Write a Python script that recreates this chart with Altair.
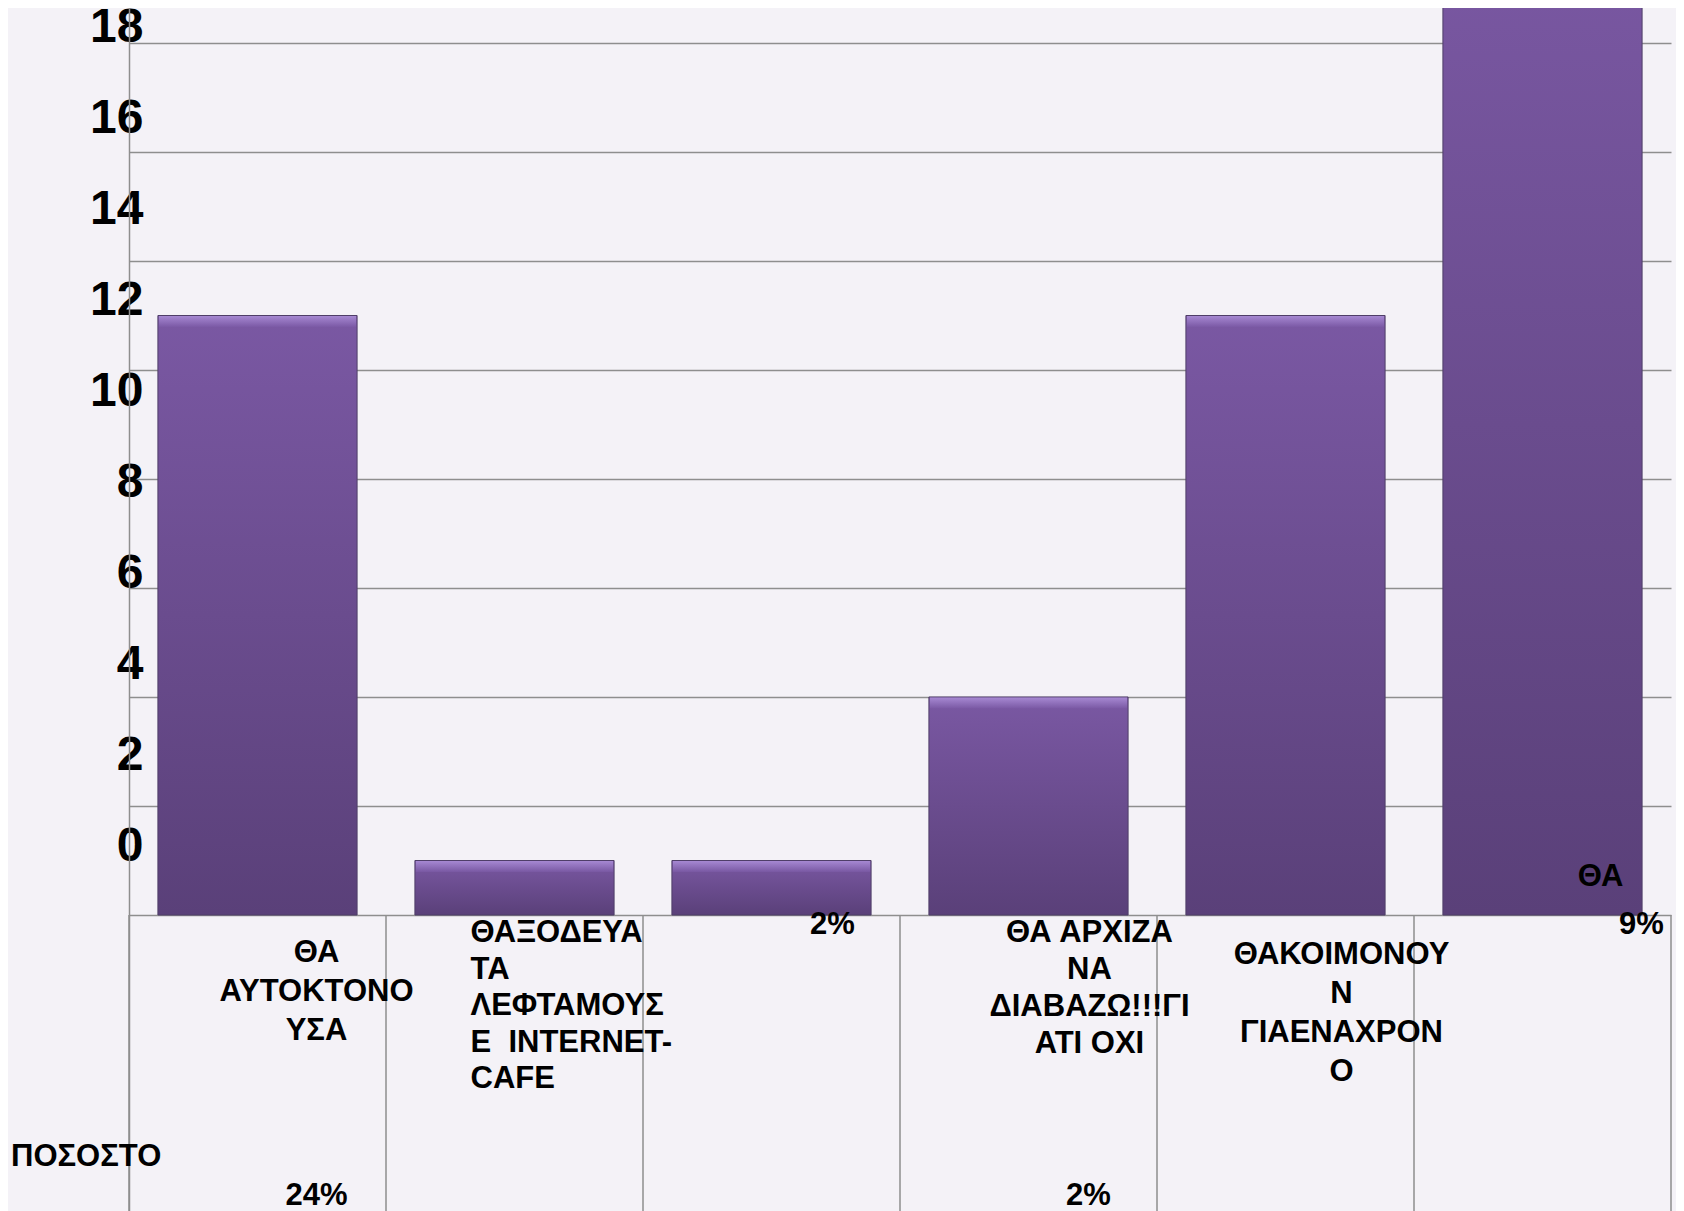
import altair as alt
import pandas as pd

# ---------------- data ----------------
cat_ids = ["c1", "c2", "c3", "c4", "c5", "c6"]
counts = [11, 1, 1, 4, 11, 18]
cat_text = [
    "ΘΑ\nΑΥΤΟΚΤΟΝΟ\nΥΣΑ",
    "\u2004ΘΑΞΟΔΕΥΑ\nΤΑ\nΛΕΦΤΑΜΟΥΣ\nΕ\u00a0 INTERNET-\nCAFE",
    "",
    "ΘΑ ΑΡΧΙΖΑ\nΝΑ\nΔΙΑΒΑΖΩ!!!ΓΙ\nΑΤΙ ΟΧΙ",
    "ΘΑΚΟΙΜΟΝΟΥ\nΝ\nΓΙΑΕΝΑΧΡΟΝ\nΟ",
    "ΘΑ",
]
pct_upper = ["", "", "2%", "", "", "9%"]
pct_lower = ["24%", "", "", "2%", "", ""]
row_title = ["ΠΟΣΟΣΤΟ"]
grid_values = [0, 2, 4, 6, 8, 10, 12, 14, 16]
tick_labels = [0, 2, 4, 6, 8, 10, 12, 14, 16, 18]

df = pd.DataFrame({"cat": cat_ids, "count": counts, "label": cat_text,
                   "pct_up": pct_upper, "pct_low": pct_lower})

# ---------------- style ----------------
FONT = "Liberation Sans"
GRID = "#8e8e8e"
BG = "#f4f2f7"
W, H = 1542, 1215
BASE = 907.0          # baseline distance from plot top (px)
PX_UNIT = 54.5        # px per unit of the bar scale
Y_MAX = BASE / PX_UNIT
Y_MIN = -(H - BASE) / PX_UNIT
# tick-label axis (drawn with its own, offset scale)
L0, L_UNIT = 838.9, 45.53
L_MAX = 18 + (L0 - 18 * L_UNIT) / L_UNIT
L_MIN = -(H - L0) / L_UNIT

P_IN = 0.225
STEP = W / 6.0
HALF_GAP = P_IN * STEP / 2.0

xscale = alt.Scale(paddingInner=P_IN, paddingOuter=P_IN / 2)
xenc = alt.X("cat:N", sort=cat_ids, scale=xscale, axis=None)
yscale = alt.Scale(domain=[Y_MIN, Y_MAX], nice=False, zero=False)

base = alt.Chart(df)

bars = base.mark_bar(
    clip=True,
    stroke="#4f3e68", strokeWidth=1,
    color=alt.Gradient(gradient="linear", x1=0, x2=0, y1=0, y2=1,
                       stops=[alt.GradientStop(color="#7a58a3", offset=0),
                              alt.GradientStop(color="#5a4079", offset=1)]),
).encode(
    x=xenc,
    y=alt.Y("count:Q", scale=yscale,
            axis=alt.Axis(values=grid_values, grid=True, labels=False,
                          ticks=False, domain=False, title=None,
                          gridColor=GRID, gridWidth=1.5)),
)

bevel = base.mark_tick(
    clip=True, thickness=11, size=STEP * (1 - P_IN) - 2, yOffset=6,
    color=alt.Gradient(gradient="linear", x1=0, x2=0, y1=0, y2=1,
                       stops=[alt.GradientStop(color="#b99de6", offset=0),
                              alt.GradientStop(color="#7b5aa6", offset=1)]),
).encode(x=xenc, y=alt.Y("count:Q", scale=yscale))

rules_left = base.mark_rule(color=GRID, strokeWidth=1.5, xOffset=-HALF_GAP).encode(
    x=alt.X("cat:N", sort=cat_ids, bandPosition=0, scale=xscale, axis=None),
    y=alt.datum(0, scale=yscale), y2=alt.datum(Y_MIN),
)
rules_right = base.mark_rule(color=GRID, strokeWidth=1.5, xOffset=HALF_GAP).encode(
    x=alt.X("cat:N", sort=cat_ids, bandPosition=1, scale=xscale, axis=None),
    y=alt.datum(0, scale=yscale), y2=alt.datum(Y_MIN),
).transform_filter(alt.datum.cat == "c6")


def txt(filter_cat, field, align, dx, dy, baseline="top", line_h=38):
    return base.mark_text(
        font=FONT, fontWeight="bold", fontSize=31, color="black",
        align=align, baseline=baseline, dx=dx, dy=dy, lineBreak="\n",
        lineHeight=line_h,
    ).encode(
        x=xenc, y=alt.datum(0, scale=yscale), text=f"{field}:N"
    ).transform_filter(alt.datum.cat == filter_cat)


labels = [
    txt("c1", "label", "center", 59, 23, line_h=39),
    txt("c2", "label", "left", -44, 3, line_h=36.5),
    txt("c4", "label", "center", 61, 3, line_h=37),
    txt("c5", "label", "center", 56, 25, line_h=39),
    txt("c6", "label", "center", 58, -38, baseline="middle"),
    txt("c3", "pct_up", "center", 61, 10, baseline="middle"),
    txt("c6", "pct_up", "center", 99, 10, baseline="middle"),
    txt("c1", "pct_low", "center", 59, 281, baseline="middle"),
    txt("c4", "pct_low", "center", 60, 281, baseline="middle"),
]

title_df = pd.DataFrame({"t": row_title})
row_lbl = alt.Chart(title_df).mark_text(
    font=FONT, fontWeight="bold", fontSize=31, color="black",
    align="left", baseline="middle", dx=-118, dy=242,
).encode(x=alt.value(0), y=alt.datum(0, scale=yscale), text="t:N")

main = alt.layer(bars, bevel, rules_left, rules_right, *labels, row_lbl)

tick_df = pd.DataFrame({"tick": tick_labels})
ylabels = alt.Chart(tick_df).mark_point(opacity=0).encode(
    y=alt.Y("tick:Q",
            scale=alt.Scale(domain=[L_MIN, L_MAX], nice=False, zero=False),
            axis=alt.Axis(orient="left", values=tick_labels, title=None,
                          labelFont=FONT, labelFontWeight="bold",
                          labelFontSize=48, labelColor="black",
                          labelPadding=-14, labelOverlap=False,
                          ticks=False, grid=False, domain=True,
                          domainColor=GRID, domainWidth=1.5)),
)

chart = alt.layer(main, ylabels).resolve_scale(y="independent").properties(
    width=W, height=H,
    autosize="none",
    padding={"left": 121, "top": 0, "right": 5, "bottom": 0},
    background=BG,
).configure_view(strokeWidth=0)

chart.save("out.html", embed_options={"renderer": "svg", "actions": False})
